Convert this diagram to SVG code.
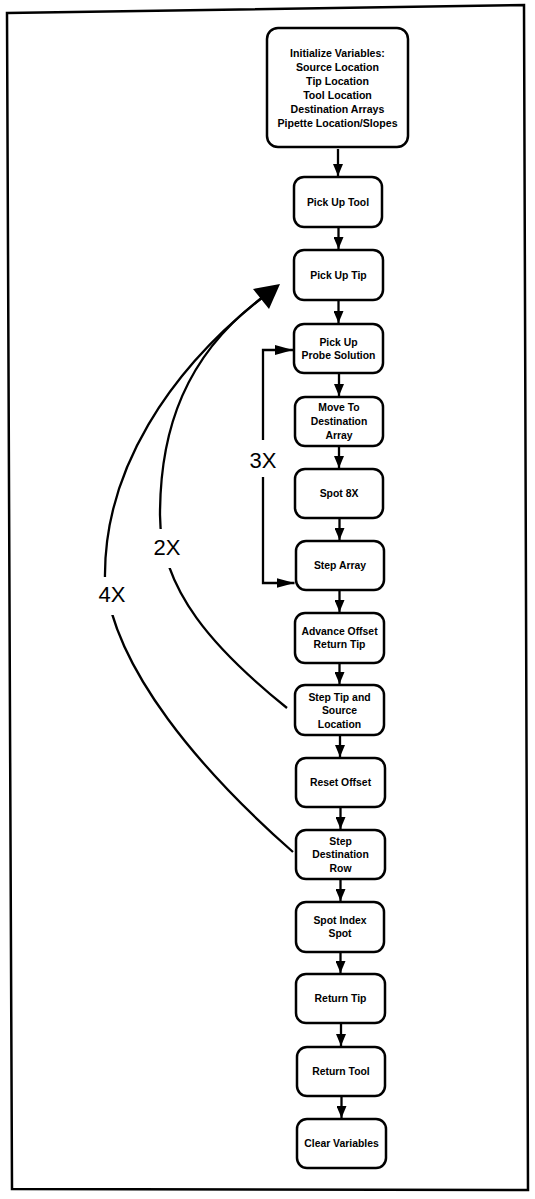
<svg xmlns="http://www.w3.org/2000/svg" width="535" height="1199" viewBox="0 0 535 1199">
<style>
.box{fill:#fff;stroke:#000;stroke-width:2.5}
.t{font-family:"Liberation Sans",Arial,Helvetica,sans-serif;font-weight:bold;font-size:10.4px;text-anchor:middle;fill:#000}
.big{font-family:"Liberation Sans",Arial,Helvetica,sans-serif;font-size:22px;text-anchor:middle;fill:#000}
.ln{fill:none;stroke:#000;stroke-width:2.3}
</style>
<defs>
<marker id="ah" viewBox="0 0 12 10" refX="12" refY="5" markerWidth="12" markerHeight="10" markerUnits="userSpaceOnUse" orient="auto"><path d="M0,0L12,5L0,10z" fill="#000"/></marker>
<marker id="ah2" viewBox="0 0 18 10" refX="18" refY="5" markerWidth="18" markerHeight="10" markerUnits="userSpaceOnUse" orient="auto"><path d="M0,0L18,5L0,10z" fill="#000"/></marker>
<mask id="lblmask" maskUnits="userSpaceOnUse" x="0" y="0" width="535" height="1199">
<rect x="0" y="0" width="535" height="1199" fill="#fff"/>
<rect x="90" y="577" width="45" height="38" fill="#000"/>
<rect x="145" y="529" width="42" height="39" fill="#000"/>
</mask>
</defs>
<rect x="0" y="0" width="535" height="1199" fill="#fff"/>
<polygon points="7,13 524,5 528,1190 12,1189" fill="none" stroke="#000" stroke-width="2.5"/>

<g id="connectors">
<path class="ln" marker-end="url(#ah)" d="M338,149V176"/>
<path class="ln" marker-end="url(#ah)" d="M338.5,228V249"/>
<path class="ln" marker-end="url(#ah)" d="M338.5,301V323"/>
<path class="ln" marker-end="url(#ah)" d="M339,374V396"/>
<path class="ln" marker-end="url(#ah)" d="M339,447V468"/>
<path class="ln" marker-end="url(#ah)" d="M339.5,519V540"/>
<path class="ln" marker-end="url(#ah)" d="M339.5,591V612"/>
<path class="ln" marker-end="url(#ah)" d="M339.5,664V684"/>
<path class="ln" marker-end="url(#ah)" d="M340,736V757"/>
<path class="ln" marker-end="url(#ah)" d="M340.5,808V829"/>
<path class="ln" marker-end="url(#ah)" d="M340.5,880V901"/>
<path class="ln" marker-end="url(#ah)" d="M340.5,953V973"/>
<path class="ln" marker-end="url(#ah)" d="M341,1024V1046"/>
<path class="ln" marker-end="url(#ah)" d="M341.5,1097V1118"/>
<path class="ln" marker-end="url(#ah2)" d="M263,440V350H293"/>
<path class="ln" marker-end="url(#ah2)" d="M263,477V583H294.5"/>
<g mask="url(#lblmask)">
<path class="ln" d="M287,708C215,650 160,590 160,515C160,430 185,355 263,297"/>
<path class="ln" d="M293,852C200,770 115,670 105,580C103,470 170,370 263,297"/>
</g>
<polygon points="280,284 253,289 269,309" fill="#000"/>
</g>

<g id="labels">
<text class="big" x="263" y="468">3X</text>
<text class="big" x="167" y="555">2X</text>
<text class="big" x="112" y="602">4X</text>
</g>

<g id="n1"><rect class="box" x="267" y="28" width="141" height="119" rx="11"/>
<text class="t" x="337.5" y="57.2" style="font-size:10.6px">Initialize Variables:</text>
<text class="t" x="337.5" y="71.1" style="font-size:10.6px">Source Location</text>
<text class="t" x="337.5" y="85" style="font-size:10.6px">Tip Location</text>
<text class="t" x="337.5" y="98.9" style="font-size:10.6px">Tool Location</text>
<text class="t" x="337.5" y="112.8" style="font-size:10.6px">Destination Arrays</text>
<text class="t" x="337.5" y="126.7" style="font-size:10.6px">Pipette Location/Slopes</text></g>
<g id="n2"><rect class="box" x="294" y="177" width="88" height="50" rx="10"/>
<text class="t" x="338" y="205.7">Pick Up Tool</text></g>
<g id="n3"><rect class="box" x="294" y="250" width="89" height="50" rx="10"/>
<text class="t" x="338.5" y="278.7">Pick Up Tip</text></g>
<g id="n4"><rect class="box" x="294" y="324" width="89" height="49" rx="10"/>
<text class="t" x="338.5" y="345.5">Pick Up</text>
<text class="t" x="338.5" y="358.9">Probe Solution</text></g>
<g id="n5"><rect class="box" x="295" y="397" width="88" height="49" rx="10"/>
<text class="t" x="339" y="411">Move To</text>
<text class="t" x="339" y="424.5">Destination</text>
<text class="t" x="339" y="438.5">Array</text></g>
<g id="n6"><rect class="box" x="295" y="469" width="88" height="49" rx="10"/>
<text class="t" x="339" y="497.2">Spot 8X</text></g>
<g id="n7"><rect class="box" x="296" y="541" width="88" height="49" rx="10"/>
<text class="t" x="340" y="569.2">Step Array</text></g>
<g id="n8"><rect class="box" x="295" y="613" width="89" height="50" rx="10"/>
<text class="t" x="339.5" y="635">Advance Offset</text>
<text class="t" x="339.5" y="648.4">Return Tip</text></g>
<g id="n9"><rect class="box" x="295" y="685" width="89" height="50" rx="10"/>
<text class="t" x="339.5" y="700.5">Step Tip and</text>
<text class="t" x="339.5" y="714">Source</text>
<text class="t" x="339.5" y="728">Location</text></g>
<g id="n10"><rect class="box" x="296" y="758" width="89" height="49" rx="10"/>
<text class="t" x="340.5" y="786.2">Reset Offset</text></g>
<g id="n11"><rect class="box" x="296" y="830" width="89" height="49" rx="10"/>
<text class="t" x="340.5" y="844.5">Step</text>
<text class="t" x="340.5" y="858">Destination</text>
<text class="t" x="340.5" y="872">Row</text></g>
<g id="n12"><rect class="box" x="296" y="902" width="88" height="50" rx="10"/>
<text class="t" x="340" y="924">Spot Index</text>
<text class="t" x="340" y="937.4">Spot</text></g>
<g id="n13"><rect class="box" x="296" y="974" width="89" height="49" rx="10"/>
<text class="t" x="340.5" y="1002.2">Return Tip</text></g>
<g id="n14"><rect class="box" x="297" y="1047" width="88" height="49" rx="10"/>
<text class="t" x="341" y="1075.2">Return Tool</text></g>
<g id="n15"><rect class="box" x="297" y="1119" width="89" height="49" rx="10"/>
<text class="t" x="341.5" y="1147.2">Clear Variables</text></g>
</svg>
